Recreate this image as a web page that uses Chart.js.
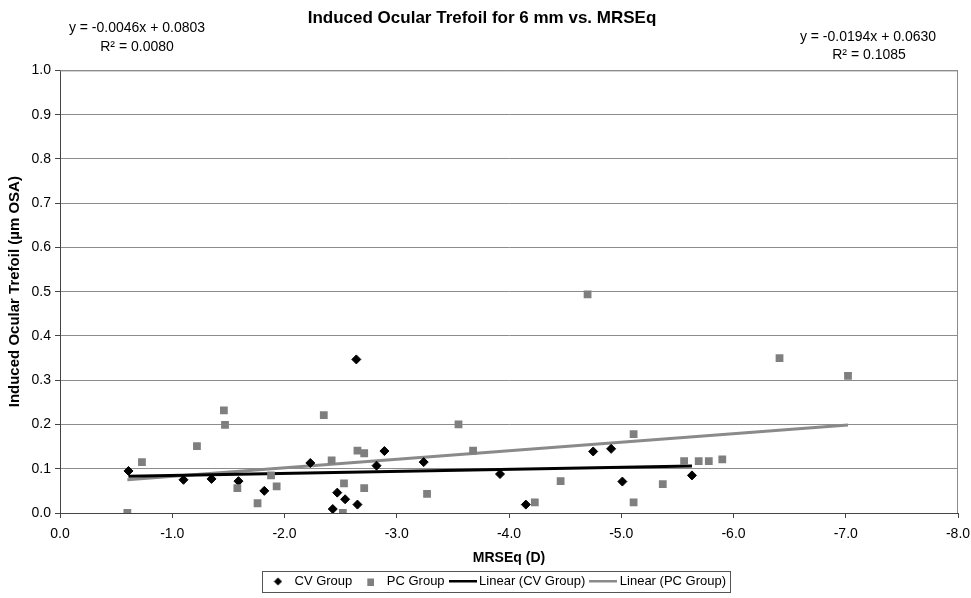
<!DOCTYPE html>
<html>
<head>
<meta charset="utf-8">
<script src="https://cdn.jsdelivr.net/npm/chart.js@4/dist/chart.umd.min.js"></script>
<style>
  html, body { margin: 0; padding: 0; background: #fff; }
  #wrap { width: 971px; height: 598px; }
</style>
</head>
<body>
<div id="wrap"><canvas id="trefoil" width="971" height="598"></canvas></div>
<script>
// CV group (MRSEq in D, induced trefoil in um)
var cvX = [-0.61, -1.10, -1.35, -1.59, -1.82, -2.23, -2.43, -2.47, -2.54, -2.65,
           -2.64, -2.82, -2.89, -3.24, -3.92, -4.15, -4.75, -4.91, -5.01, -5.63];
var cvY = [0.095, 0.075, 0.077, 0.072, 0.050, 0.113, 0.009, 0.046, 0.031, 0.019,
           0.347, 0.107, 0.140, 0.115, 0.088, 0.019, 0.139, 0.145, 0.071, 0.085];

// PC group
var pcX = [-0.60, -0.73, -1.22, -1.46, -1.47, -1.58, -1.76, -1.88, -1.93, -2.35,
           -2.42, -2.53, -2.52, -2.65, -2.71, -2.71, -3.27, -3.55, -3.68, -4.23,
           -4.46, -4.70, -5.11, -5.11, -5.37, -5.56, -5.69, -5.78, -5.90, -6.41, -7.02];
var pcY = [0.000, 0.115, 0.151, 0.232, 0.199, 0.056, 0.022, 0.085, 0.060, 0.221,
           0.119, 0.067, 0.000, 0.141, 0.135, 0.056, 0.043, 0.200, 0.141, 0.024,
           0.072, 0.494, 0.178, 0.024, 0.065, 0.117, 0.117, 0.117, 0.121, 0.350, 0.310];

// trend line end points
var cvTrendX = [-0.61, -5.63];
var cvTrendY = [0.083, 0.106];
var pcTrendX = [-0.60, -7.02];
var pcTrendY = [0.075, 0.199];

var seriesNames = ["CV Group", "PC Group", "Linear (CV Group)", "Linear (PC Group)"];
var cvEquation = ["y = -0.0046x + 0.0803", "R\u00B2 = 0.0080"];
var pcEquation = ["y = -0.0194x + 0.0630", "R\u00B2 = 0.1085"];

var FONT = "'Liberation Sans', Arial, sans-serif";

function pairs(xs, ys) {
  return xs.map(function (x, i) { return { x: x, y: ys[i] }; });
}

// little canvases used as legend markers
function marker(w, h, draw) {
  var c = document.createElement("canvas");
  c.width = w; c.height = h;
  draw(c.getContext("2d"));
  return c;
}
var diamondIcon = marker(9, 9, function (g) {
  g.fillStyle = "#000";
  g.beginPath(); g.moveTo(4.5, 0.5); g.lineTo(8.5, 4.5); g.lineTo(4.5, 8.5); g.lineTo(0.5, 4.5); g.fill();
});
var squareIcon = marker(8, 8, function (g) {
  g.fillStyle = "#7f7f7f"; g.fillRect(1, 1, 7, 7);
});
var blackLineIcon = marker(28, 4, function (g) {
  g.fillStyle = "#000"; g.fillRect(0, 0, 28, 3);
});
var grayLineIcon = marker(28, 4, function (g) {
  g.fillStyle = "#8a8a8a"; g.fillRect(0, 0, 28, 3);
});
var legendIcons = [diamondIcon, squareIcon, blackLineIcon, grayLineIcon];

var textBits = {
  id: "textBits",
  afterLayout: function (chart) {
    // legend sits a bit right of centre in the original
    chart.legend.left += 15;
    chart.legend.right += 15;
  },
  afterDraw: function (chart) {
    var ctx = chart.ctx, a = chart.chartArea;
    ctx.save();
    // frame on top and right of plot
    ctx.strokeStyle = "#8c8c8c";
    ctx.lineWidth = 1;
    ctx.beginPath();
    ctx.moveTo(a.left, a.top + 0.5); ctx.lineTo(a.right - 0.5, a.top + 0.5); ctx.lineTo(a.right - 0.5, a.bottom);
    ctx.stroke();

    ctx.fillStyle = "#000";
    ctx.font = "14px " + FONT;
    ctx.textAlign = "center";
    ctx.textBaseline = "middle";
    ctx.fillText(cvEquation[0], 137, 28);
    ctx.fillText(cvEquation[1], 137, 47);
    ctx.fillText(pcEquation[0], 868, 37);
    ctx.fillText(pcEquation[1], 869, 55);

    // box round the legend
    var hb = chart.legend.legendHitBoxes;
    if (hb && hb.length) {
      var l = Math.min.apply(null, hb.map(function (b) { return b.left; })) - 6;
      var r = Math.max.apply(null, hb.map(function (b) { return b.left + b.width; })) + 4;
      var t = hb[0].top - 4, h = hb[0].height + 8;
      ctx.strokeStyle = "#555";
      ctx.strokeRect(Math.round(l) + 0.5, Math.round(t) + 0.5, Math.round(r - l), Math.round(h));
    }
    ctx.restore();
  }
};

new Chart("trefoil", {
  type: "scatter",
  data: {
    datasets: [{
      label: seriesNames[0],
      data: pairs(cvX, cvY),
      pointStyle: "rectRot",
      pointRadius: 4.5,
      pointBorderWidth: 1,
      backgroundColor: "#000",
      borderColor: "#000",
      order: 1
    }, {
      label: seriesNames[1],
      data: pairs(pcX, pcY),
      pointStyle: "rect",
      pointRadius: 5.5,
      pointBorderWidth: 0,
      backgroundColor: "#7f7f7f",
      borderColor: "#7f7f7f",
      order: 0
    }, {
      label: seriesNames[2],
      data: pairs(cvTrendX, cvTrendY),
      showLine: true,
      pointRadius: 0,
      borderColor: "#000",
      borderWidth: 3,
      order: 2
    }, {
      label: seriesNames[3],
      data: pairs(pcTrendX, pcTrendY),
      showLine: true,
      pointRadius: 0,
      borderColor: "#8a8a8a",
      borderWidth: 3,
      order: 3
    }]
  },
  options: {
    responsive: false,
    animation: false,
    layout: { padding: { left: 6, right: 13, top: 0, bottom: 0 } },
    plugins: {
      title: {
        display: true,
        text: "Induced Ocular Trefoil for 6 mm vs. MRSEq",
        color: "#000",
        font: { family: FONT, size: 17, weight: "bold" },
        padding: { top: 8, bottom: 42 }
      },
      legend: {
        display: true,
        position: "bottom",
        labels: {
          usePointStyle: true,
          pointStyleWidth: 20,
          color: "#000",
          padding: 8,
          font: { family: FONT, size: 13 },
          generateLabels: function (chart) {
            return seriesNames.map(function (n, i) {
              return { text: n, pointStyle: legendIcons[i], datasetIndex: i, fillStyle: "#000", strokeStyle: "#000", lineWidth: 0 };
            });
          }
        }
      },
      tooltip: { enabled: false }
    },
    scales: {
      x: {
        type: "linear",
        reverse: true,
        min: -8,
        max: 0,
        afterFit: function (s) { s.height = 54; s.paddingRight = 0; },
        ticks: {
          stepSize: 1,
          color: "#000",
          padding: 8,
          font: { family: FONT, size: 14 },
          callback: function (v) { return v.toFixed(1); }
        },
        grid: { drawOnChartArea: false, drawTicks: true, tickLength: 5, color: "#444" },
        border: { color: "#444", width: 1 },
        title: {
          display: true,
          text: "MRSEq (D)",
          color: "#000",
          font: { family: FONT, size: 14, weight: "bold" },
          padding: { top: 6, bottom: 0 }
        }
      },
      y: {
        min: 0,
        max: 1,
        afterFit: function (s) { s.width = 54; },
        ticks: {
          stepSize: 0.1,
          color: "#000",
          padding: 4,
          font: { family: FONT, size: 14 },
          callback: function (v) { return v.toFixed(1); }
        },
        grid: { color: "#8c8c8c", tickColor: "#444", tickLength: 5, lineWidth: 1 },
        border: { color: "#444", width: 1 },
        title: {
          display: true,
          text: "Induced Ocular Trefoil (\u00B5m OSA)",
          color: "#000",
          font: { family: FONT, size: 15, weight: "bold" },
          padding: { top: 0, bottom: 0 }
        }
      }
    }
  },
  plugins: [textBits]
});
</script>
</body>
</html>
